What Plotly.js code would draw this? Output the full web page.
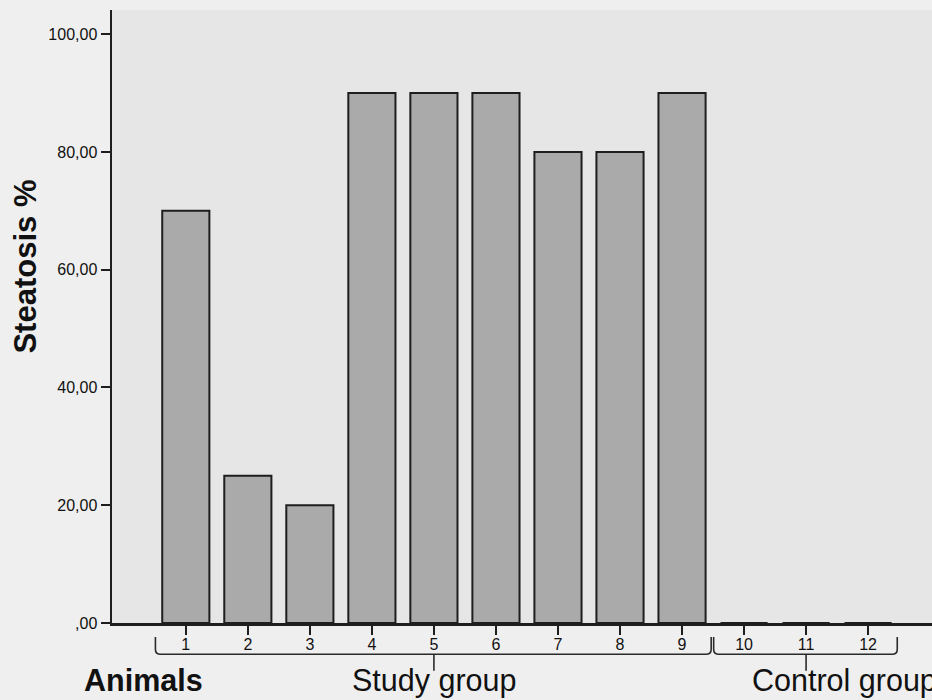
<!DOCTYPE html>
<html>
<head>
<meta charset="utf-8">
<script src="https://cdn.plot.ly/plotly-3.0.1.min.js"></script>
<style>html,body{margin:0;padding:0;background:#efefef;overflow:hidden;}#chart{width:932px;height:700px;}</style>
</head>
<body>
<div id="chart"></div>
<script>
// ---- data ----
const animals = [1, 2, 3, 4, 5, 6, 7, 8, 9, 10, 11, 12];
const animalLabels = ['1', '2', '3', '4', '5', '6', '7', '8', '9', '10', '11', '12'];
const steatosis = [70, 25, 20, 90, 90, 90, 80, 80, 90, 0, 0, 0];
const yTickVals = [0, 20, 40, 60, 80, 100];
const yTickText = [',00', '20,00', '40,00', '60,00', '80,00', '100,00'];
const groupNames = ['Study group', 'Control group'];
const groupFirst = [1, 10];
const groupLast = [9, 12];
const yTitle = 'Steatosis %';
const xTitle = 'Animals';

// ---- brackets ----
const yTop = -0.023, yLine = -0.051, yStem = -0.078;
const shapes = [];
const annotations = [];
groupNames.forEach((name, i) => {
  const x0 = groupFirst[i] - 0.49, x1 = groupLast[i] + 0.47;
  const c = (groupFirst[i] + groupLast[i]) / 2;
  const r = 0.07;
  shapes.push({
    type: 'path', xref: 'x', yref: 'paper',
    path: `M ${x0},${yTop} L ${x0},${yLine + 0.008} Q ${x0},${yLine} ${x0 + r},${yLine} ` +
          `L ${x1 - r},${yLine} Q ${x1},${yLine} ${x1},${yLine + 0.008} L ${x1},${yTop}`,
    line: {color: '#2a2a2a', width: 1.6}
  });
  shapes.push({
    type: 'line', xref: 'x', yref: 'paper', x0: c, x1: c, y0: yLine, y1: yStem,
    line: {color: '#2a2a2a', width: 1.6}
  });
  annotations.push({
    xref: 'x', yref: 'paper', x: i === 0 ? c : groupFirst[i] + 0.1, y: -0.093,
    xanchor: i === 0 ? 'center' : 'left', yanchor: 'middle',
    text: name, showarrow: false,
    font: {family: 'Liberation Sans, Arial, sans-serif', size: 30.5, color: '#111'}
  });
});
annotations.push({
  xref: 'paper', yref: 'paper', x: -0.036, y: -0.093, xanchor: 'left', yanchor: 'middle',
  text: '<b>' + xTitle + '</b>', showarrow: false,
  font: {family: 'Liberation Sans, Arial, sans-serif', size: 30.5, color: '#111'}
});
annotations.push({
  xref: 'paper', yref: 'paper', x: -0.106, y: 0.5816, xanchor: 'center', yanchor: 'middle',
  text: '<b>' + yTitle + '</b>', textangle: -90, showarrow: false,
  font: {family: 'Liberation Sans, Arial, sans-serif', size: 31, color: '#111'}
});

const trace = {
  type: 'bar', x: animals, y: steatosis,
  marker: {color: '#aaaaaa', line: {color: '#1e1e1e', width: 2}},
  hoverinfo: 'x+y'
};

const layout = {
  width: 932, height: 700,
  margin: {l: 112, r: 0, t: 10, b: 77, pad: 0},
  paper_bgcolor: '#efefef', plot_bgcolor: '#e6e6e6',
  bargap: 0.24, showlegend: false,
  font: {family: 'Liberation Sans, Arial, sans-serif', color: '#111'},
  xaxis: {
    range: [-0.19, 13.03], tickmode: 'array', tickvals: animals, ticktext: animalLabels,
    showline: true, linecolor: '#1e1e1e', linewidth: 2.5, showgrid: false, zeroline: false,
    ticks: 'outside', ticklen: 9, tickwidth: 2, tickcolor: '#1e1e1e',
    ticklabelstandoff: -4,
    tickfont: {size: 16, color: '#111'}, automargin: false
  },
  yaxis: {
    range: [0, 104.1], tickmode: 'array', tickvals: yTickVals, ticktext: yTickText,
    showline: true, linecolor: '#1e1e1e', linewidth: 2.5, showgrid: false, zeroline: false,
    ticks: 'outside', ticklen: 9, tickwidth: 2, tickcolor: '#1e1e1e',
    tickfont: {size: 16, color: '#111'}, automargin: false
  },
  shapes: shapes, annotations: annotations
};

Plotly.newPlot('chart', [trace], layout, {displayModeBar: false, staticPlot: true});
</script>
</body>
</html>
